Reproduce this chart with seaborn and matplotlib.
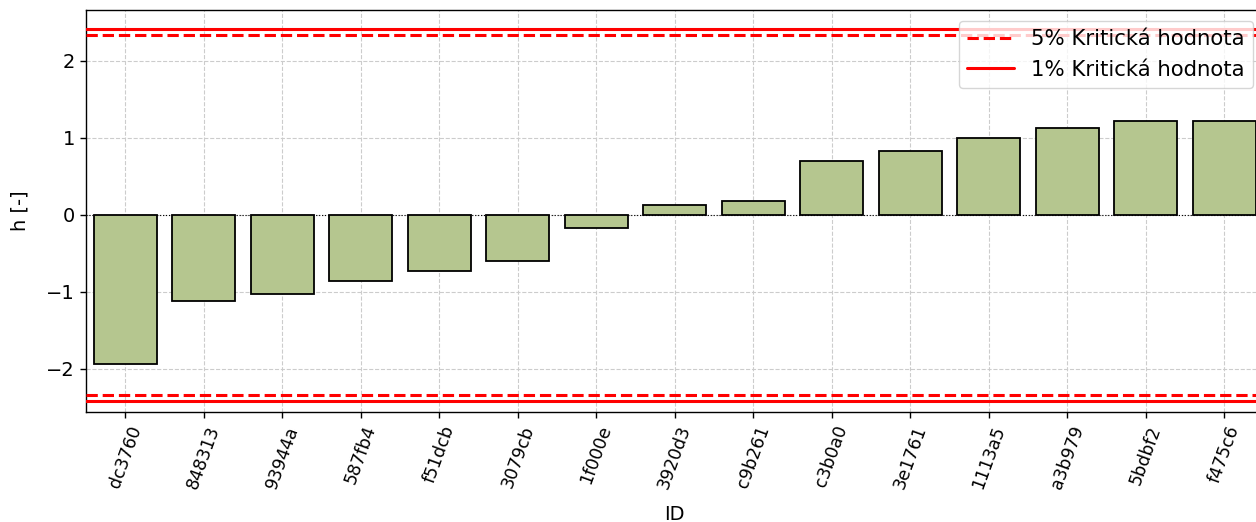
import matplotlib
matplotlib.use("Agg")
import matplotlib.pyplot as plt
import seaborn as sns
import pandas as pd

ids = ["dc3760", "848313", "93944a", "587fb4", "f51dcb", "3079cb", "1f000e",
       "3920d3", "c9b261", "c3b0a0", "3e1761", "1113a5", "a3b979", "5bdbf2", "f475c6"]
h_values = [-1.935, -1.117, -1.026, -0.857, -0.727, -0.597, -0.169,
            0.13, 0.18, 0.70, 0.83, 1.00, 1.13, 1.22, 1.22]
crit_5 = 2.34
crit_1 = 2.415

df = pd.DataFrame({"ID": ids, "h": h_values})

sns.set_style("white")
plt.rcParams["font.family"] = ["DejaVu Sans"]
plt.rcParams["text.color"] = "black"
plt.rcParams["axes.labelcolor"] = "black"
plt.rcParams["xtick.color"] = "black"
plt.rcParams["ytick.color"] = "black"

fig = plt.figure(figsize=(12.56, 5.22), dpi=100)
ax = fig.add_axes([86 / 1256, 1 - 412 / 522, (1263.5 - 86) / 1256, (412 - 10) / 522])

sns.barplot(data=df, x="ID", y="h", color="#b5c68f", saturation=1,
            edgecolor="black", linewidth=1.3, width=0.8, ax=ax, zorder=3)

ax.axhline(0, color="black", linestyle=":", linewidth=0.8, zorder=2)
ax.axhline(crit_5, color="red", linestyle="--", linewidth=2.2, label="5% Kritická hodnota", zorder=4)
ax.axhline(-crit_5, color="red", linestyle="--", linewidth=2.2, zorder=4)
ax.axhline(crit_1, color="red", linestyle="-", linewidth=2.2, label="1% Kritická hodnota", zorder=4)
ax.axhline(-crit_1, color="red", linestyle="-", linewidth=2.2, zorder=4)

ax.set_xlim(-0.5, 14.5)
ax.set_ylim(-2.56, 2.66)
ax.set_yticks([-2, -1, 0, 1, 2])
ax.grid(True, linestyle="--", color="#cccccc", linewidth=0.8, zorder=0)
ax.set_axisbelow(True)

for s in ax.spines.values():
    s.set_color("black")
    s.set_linewidth(1.0)

ax.tick_params(axis="both", which="both", length=4.5, width=1, color="black",
               bottom=True, left=True, labelsize=14)
plt.setp(ax.get_xticklabels(), rotation=70, fontsize=12.5)
ax.set_xlabel("ID", fontsize=14, labelpad=10)
ax.set_ylabel("h [-]", fontsize=14, labelpad=12)

ax.legend(loc="upper right", fontsize=15.3, framealpha=0.8, handlelength=2.2)

fig.savefig("out.png", dpi=100)
